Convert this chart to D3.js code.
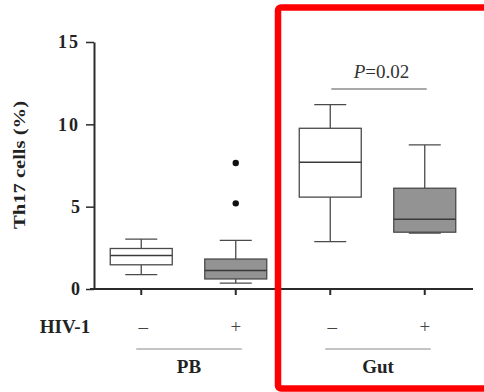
<!DOCTYPE html>
<html>
<head>
<meta charset="utf-8">
<script src="https://cdn.jsdelivr.net/npm/d3@7"></script>
<style>
  body { margin: 0; background: #fff; }
  svg { display: block; }
  text { font-family: "Liberation Serif", "DejaVu Serif", serif; }
</style>
</head>
<body>
<svg id="chart" width="484" height="392"></svg>
<script>
// data
var groups = ["PB", "PB", "Gut", "Gut"];
var hivStatus = ["\u2013", "+", "\u2013", "+"];
var whiskerLow = [0.87, 0.36, 2.88, 3.40];
var q1 = [1.47, 0.61, 5.58, 3.45];
var median = [2.04, 1.13, 7.70, 4.24];
var q3 = [2.46, 1.82, 9.76, 6.12];
var whiskerHigh = [3.03, 2.95, 11.2, 8.75];
var outliers = [[], [5.2, 7.65], [], []];
var boxFill = ["#fff", "#939393", "#fff", "#939393"];
var yTicks = [0, 5, 10, 15];
var pLabel = "0.02";

var svg = d3.select("#chart");
var keys = d3.range(groups.length);

var x = d3.scaleBand().domain(keys).range([94, 472]);
var y = d3.scaleLinear().domain([0, 15]).range([289, 42]);

var boxW = 62, capW = 32;

// y axis
var yAxis = svg.append("g").attr("transform", "translate(94,0)")
    .call(d3.axisLeft(y).tickValues(yTicks).tickSize(8).tickPadding(6).tickSizeOuter(0));
yAxis.select(".domain").attr("stroke", "#2a2a2a").attr("stroke-width", 2);
yAxis.selectAll(".tick line").attr("stroke", "#2a2a2a").attr("stroke-width", 1.5);
yAxis.selectAll(".tick text")
    .attr("font-family", "Liberation Serif").attr("font-weight", "bold")
    .attr("font-size", 18).attr("fill", "#222")
    .attr("letter-spacing", function(d){ return d >= 10 ? 2 : 0; });

// x axis
var xAxis = svg.append("g").attr("transform", "translate(0,289)")
    .call(d3.axisBottom(x).tickSize(6).tickFormat("").tickSizeOuter(0));
xAxis.select(".domain").attr("d", "M90,0H473").attr("stroke", "#2a2a2a").attr("stroke-width", 2);
xAxis.selectAll(".tick line").attr("stroke", "#2a2a2a").attr("stroke-width", 2);

// boxes
var box = svg.selectAll("g.box").data(keys).enter().append("g")
    .attr("class", "box")
    .attr("transform", function(i){ return "translate(" + (x(i) + x.bandwidth() / 2) + ",0)"; });

var stroke = "#4a4a4a";
box.append("line").attr("x1", 0).attr("x2", 0)
    .attr("y1", function(i){ return y(whiskerHigh[i]); })
    .attr("y2", function(i){ return y(q3[i]); })
    .attr("stroke", stroke).attr("stroke-width", 1.3);
box.append("line").attr("x1", 0).attr("x2", 0)
    .attr("y1", function(i){ return y(q1[i]); })
    .attr("y2", function(i){ return y(whiskerLow[i]); })
    .attr("stroke", stroke).attr("stroke-width", 1.3);
box.append("line").attr("x1", -capW / 2).attr("x2", capW / 2)
    .attr("y1", function(i){ return y(whiskerHigh[i]); })
    .attr("y2", function(i){ return y(whiskerHigh[i]); })
    .attr("stroke", stroke).attr("stroke-width", 1.3);
box.append("line").attr("x1", -capW / 2).attr("x2", capW / 2)
    .attr("y1", function(i){ return y(whiskerLow[i]); })
    .attr("y2", function(i){ return y(whiskerLow[i]); })
    .attr("stroke", stroke).attr("stroke-width", 1.3);
box.append("rect")
    .attr("x", -boxW / 2).attr("width", boxW)
    .attr("y", function(i){ return y(q3[i]); })
    .attr("height", function(i){ return y(q1[i]) - y(q3[i]); })
    .attr("fill", function(i){ return boxFill[i]; })
    .attr("stroke", stroke).attr("stroke-width", 1.3);
box.append("line").attr("x1", -boxW / 2).attr("x2", boxW / 2)
    .attr("y1", function(i){ return y(median[i]); })
    .attr("y2", function(i){ return y(median[i]); })
    .attr("stroke", "#3a3a3a").attr("stroke-width", 1.5);
box.selectAll("circle").data(function(i){ return outliers[i]; }).enter()
    .append("circle").attr("cx", 0).attr("cy", function(v){ return y(v); })
    .attr("r", 3.2).attr("fill", "#111");

// y axis title
svg.append("text")
    .attr("transform", "translate(25,165) rotate(-90)")
    .attr("text-anchor", "middle")
    .attr("font-weight", "bold").attr("font-size", 17).attr("fill", "#222")
    .attr("textLength", 128).attr("lengthAdjust", "spacingAndGlyphs")
    .text("Th17 cells (%)");

// HIV-1 row
svg.append("text").attr("x", 65).attr("y", 333)
    .attr("text-anchor", "middle").attr("font-weight", "bold").attr("font-size", 19)
    .attr("fill", "#222").text("HIV-1");
svg.selectAll("text.hiv").data(keys).enter().append("text")
    .attr("class", "hiv")
    .attr("x", function(i){ return x(i) + x.bandwidth() / 2 + (i % 2 === 0 ? 2 : 0); })
    .attr("y", 333).attr("text-anchor", "middle").attr("font-size", 19).attr("fill", "#444")
    .text(function(i){ return hivStatus[i]; });

// group lines and labels
var groupNames = Array.from(new Set(groups));
groupNames.forEach(function(g){
  var idx = keys.filter(function(i){ return groups[i] === g; });
  var x0 = x(idx[0]) + x.bandwidth() / 2 - 5;
  var x1 = x(idx[idx.length - 1]) + x.bandwidth() / 2 + 6;
  svg.append("line").attr("x1", x0).attr("x2", x1).attr("y1", 349).attr("y2", 349)
      .attr("stroke", "#888").attr("stroke-width", 1);
  svg.append("text").attr("x", (x0 + x1) / 2).attr("y", 373)
      .attr("text-anchor", "middle").attr("font-weight", "bold").attr("font-size", 19)
      .attr("fill", "#222").text(g);
});

// significance bracket
var pX0 = x(2) + x.bandwidth() / 2, pX1 = x(3) + x.bandwidth() / 2;
svg.append("line").attr("x1", pX0 + 1).attr("x2", pX1 + 2).attr("y1", 89).attr("y2", 89)
    .attr("stroke", "#555").attr("stroke-width", 1.2);
var pt = svg.append("text").attr("x", (pX0 + pX1) / 2 + 4).attr("y", 78)
    .attr("text-anchor", "middle").attr("font-size", 19).attr("fill", "#333");
pt.append("tspan").attr("font-style", "italic").text("P");
pt.append("tspan").text("=" + pLabel);

// red highlight frame
svg.append("rect").attr("x", 278).attr("y", 7.5).attr("width", 220).attr("height", 381)
    .attr("rx", 3).attr("fill", "none").attr("stroke", "#ff0000").attr("stroke-width", 6.5);
</script>
</body>
</html>
